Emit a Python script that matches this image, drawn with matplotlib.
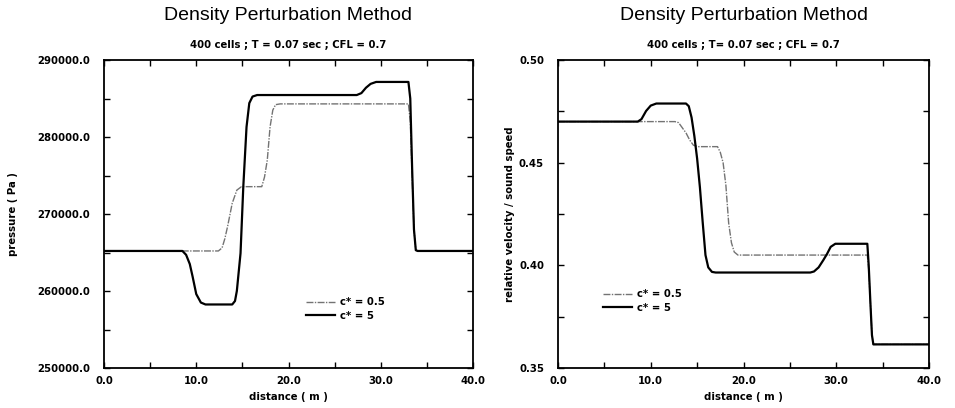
import matplotlib
matplotlib.use("Agg")
import matplotlib.pyplot as plt
from matplotlib.ticker import MultipleLocator, FormatStrFormatter

# ---------------- data ----------------
# Pressure, c* = 5
p5_x = [0, 8.5, 8.9, 9.3, 9.6, 10.0, 10.5, 11.0, 13.9, 14.2, 14.4, 14.8, 15.1, 15.45, 15.75,
        16.1, 16.6, 27.4, 27.9, 28.4, 28.9, 29.5, 33.0, 33.2, 33.4, 33.6, 33.8, 34.0, 40]
p5_y = [265200, 265200, 264700, 263500, 261900, 259600, 258500, 258250, 258250, 258700,
        260000, 264900, 273550, 281300, 284400, 285250, 285450, 285450, 285700, 286400,
        286900, 287150, 287150, 285000, 276000, 268000, 265300, 265200, 265200]
# Pressure, c* = 0.5
p05_x = [0, 12.4, 12.8, 13.1, 13.4, 13.9, 14.4, 14.9, 17.1, 17.4, 17.7, 18.0, 18.3, 18.6,
         19.1, 33.0, 33.2, 33.4, 33.6, 33.8, 34.0, 40]
p05_y = [265200, 265200, 265600, 266800, 268400, 271400, 273100, 273550, 273550, 274800,
         277000, 281300, 283500, 284200, 284300, 284300, 282000, 275000, 268000, 265300,
         265200, 265200]
# Relative velocity / sound speed, c* = 5
v5_x = [0, 8.6, 9.0, 9.5, 10.0, 10.6, 13.8, 14.1, 14.4, 14.7, 15.0, 15.3, 15.6, 15.9, 16.2,
        16.6, 17.0, 27.2, 27.6, 28.1, 28.6, 29.0, 29.4, 29.9, 33.35, 33.5, 33.7, 33.85, 34.0, 40]
v5_y = [0.470, 0.470, 0.4712, 0.4752, 0.4778, 0.4788, 0.4788, 0.4775, 0.4720, 0.4630,
        0.4520, 0.4380, 0.4210, 0.4050, 0.3990, 0.3968, 0.3965, 0.3965, 0.3970, 0.3990,
        0.4025, 0.4055, 0.4090, 0.4105, 0.4105, 0.4000, 0.3800, 0.3660, 0.3615, 0.3615]
# Relative velocity / sound speed, c* = 0.5
v05_x = [0, 12.6, 13.0, 13.4, 13.8, 14.2, 14.6, 15.1, 17.2, 17.5, 17.8, 18.1, 18.4, 18.7,
         19.0, 19.4, 33.35, 33.5, 33.7, 33.85, 34.0, 40]
v05_y = [0.470, 0.470, 0.4695, 0.4670, 0.4645, 0.4610, 0.4585, 0.4578, 0.4578, 0.4550,
         0.4500, 0.4390, 0.4206, 0.4110, 0.4065, 0.4050, 0.4050, 0.3980, 0.3800, 0.3660,
         0.3615, 0.3615]

labels = ["c* = 0.5", "c* = 5"]
title = "Density Perturbation Method"
subtitles = ["400 cells ; T = 0.07 sec ; CFL = 0.7", "400 cells ; T= 0.07 sec ; CFL = 0.7"]
xlabel = "distance ( m )"
ylabels = ["pressure ( Pa )", "relative velocity / sound speed"]

# ---------------- figure ----------------
fig = plt.figure(figsize=(9.55, 4.08), dpi=100)
fs = 7.3
bold = dict(family="DejaVu Sans", weight="bold", size=fs)

ax1 = fig.add_axes([104/955, 1-368/408, (473-104)/955, 308/408])
ax2 = fig.add_axes([558/955, 1-368/408, (929-558)/955, 308/408])

style05 = dict(color="0.45", lw=1.0, ls=(0, (5, 1, 1, 1)))
style5 = dict(color="black", lw=1.6, ls="-")

ax1.plot(p05_x, p05_y, label=labels[0], **style05)
ax1.plot(p5_x, p5_y, label=labels[1], **style5)
ax2.plot(v05_x, v05_y, label=labels[0], **style05)
ax2.plot(v5_x, v5_y, label=labels[1], **style5)

ax1.set_xlim(0, 40)
ax1.set_ylim(250000, 290000)
ax2.set_xlim(0, 40)
ax2.set_ylim(0.35, 0.50)

ax1.yaxis.set_major_locator(MultipleLocator(10000))
ax1.yaxis.set_minor_locator(MultipleLocator(5000))
ax1.yaxis.set_major_formatter(FormatStrFormatter("%.1f"))
ax2.yaxis.set_major_locator(MultipleLocator(0.05))
ax2.yaxis.set_minor_locator(MultipleLocator(0.025))
ax2.yaxis.set_major_formatter(FormatStrFormatter("%.2f"))

for i, ax in enumerate((ax1, ax2)):
    ax.xaxis.set_major_locator(MultipleLocator(10))
    ax.xaxis.set_minor_locator(MultipleLocator(5))
    ax.xaxis.set_major_formatter(FormatStrFormatter("%.1f"))
    ax.tick_params(which="both", direction="in", top=True, right=True, width=1.0)
    ax.tick_params(which="major", length=4)
    ax.tick_params(which="minor", length=4)
    ax.tick_params(axis="y", pad=10)
    ax.tick_params(axis="x", pad=6)
    for lab in ax.get_xticklabels() + ax.get_yticklabels():
        lab.set_fontfamily("DejaVu Sans")
        lab.set_fontweight("bold")
        lab.set_fontsize(fs)
    for sp in ax.spines.values():
        sp.set_linewidth(1.3)
    ax.set_xlabel(xlabel, labelpad=4, **bold)
    ax.set_ylabel(ylabels[i], labelpad=14 if i == 0 else 3, **bold)
    pos = ax.get_position()
    cx = (pos.x0 + pos.x1) / 2
    fig.text(cx, 1 - 16/408, title, ha="center", va="center",
             family="Liberation Sans", size=14)
    fig.text(cx, 1 - 45/408, subtitles[i], ha="center", va="center", **bold)

leg_kw = dict(frameon=False, loc="center left", borderpad=0, borderaxespad=0,
              handlelength=2.9, handletextpad=0.5, labelspacing=0.35,
              prop=dict(family="DejaVu Sans", weight="bold", size=fs))
ax1.legend(bbox_to_anchor=(306/955, 1 - 309/408), bbox_transform=fig.transFigure, **leg_kw)
ax2.legend(bbox_to_anchor=(603/955, 1 - 301/408), bbox_transform=fig.transFigure, **leg_kw)

fig.savefig("out.png", dpi=100)
